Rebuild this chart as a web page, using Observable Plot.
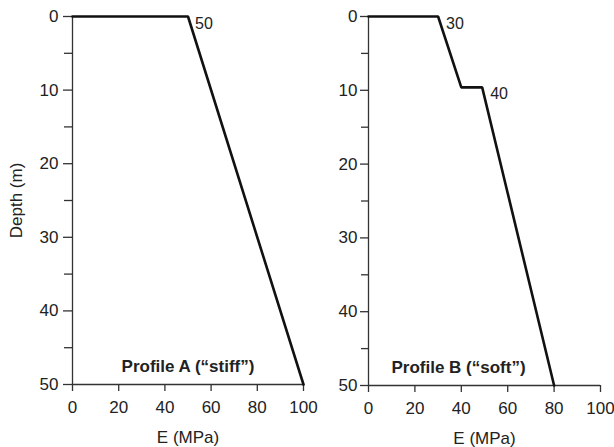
<!DOCTYPE html>
<html>
<head>
<meta charset="utf-8">
<script src="https://cdn.jsdelivr.net/npm/d3@7"></script>
<script src="https://cdn.jsdelivr.net/npm/@observablehq/plot@0.6"></script>
<style>
  html, body { margin: 0; padding: 0; background: #fff; }
  #wrap { display: flex; width: 614px; height: 447px; }
  svg { font-family: "Liberation Sans", Arial, sans-serif; }
</style>
</head>
<body>
<div id="wrap"></div>
<script>
// Profile A ("stiff")
const profileA_E = [0, 50, 100];
const profileA_depth = [0, 0, 50];
const profileA_labels = [{E: 50, depth: 0, text: "50"}];
const profileA_title = "Profile A (\u201cstiff\u201d)";

// Profile B ("soft")
const profileB_E = [0, 30, 40, 49, 80];
const profileB_depth = [0, 0, 9.6, 9.6, 50];
const profileB_labels = [{E: 30, depth: 0, text: "30"}, {E: 49, depth: 9.6, text: "40"}];
const profileB_title = "Profile B (\u201csoft\u201d)";

const xTicks = [0, 20, 40, 60, 80, 100];
const yMajor = [0, 10, 20, 30, 40, 50];
const yMinor = [5, 15, 25, 35, 45];
const xLabel = "E (MPa)";
const yLabel = "Depth (m)";

function panel({E, depth, labels, title, titleX, showYLabel, marginLeft, marginRight, marginBottom, labelDx, yTickSize, yTickPadding}) {
  const pts = E.map((e, i) => ({E: e, depth: depth[i]}));
  return Plot.plot({
    width: 307,
    height: 447,
    marginTop: 16,
    marginBottom,
    marginLeft,
    marginRight,
    style: {fontSize: "17px", fontFamily: "'Liberation Sans', Arial, sans-serif", color: "#222", overflow: "visible"},
    x: {domain: [0, 100]},
    y: {domain: [0, 50], reverse: true},
    marks: [
      Plot.axisX({ticks: xTicks, tickSize: 7, tickPadding: 9, stroke: "#333", strokeWidth: 1.3, fontSize: 17,
        label: xLabel, labelAnchor: "center", labelArrow: "none", labelOffset: 58, fill: "#222"}),
      Plot.axisY({ticks: yMajor, tickSize: yTickSize, tickPadding: yTickPadding, stroke: "#333", strokeWidth: 1.3, fontSize: 17,
        label: showYLabel ? yLabel : null, labelAnchor: "center", labelArrow: "none", labelOffset: 63, fill: "#222"}),
      Plot.axisY({ticks: yMinor, tickSize: yTickSize - 1, tickFormat: () => "", stroke: "#333", strokeWidth: 1.3, label: null}),
      Plot.ruleX([0], {stroke: "#333", strokeWidth: 1.3}),
      Plot.ruleY([50], {stroke: "#333", strokeWidth: 1.3}),
      Plot.line(pts, {x: "E", y: "depth", stroke: "#111", strokeWidth: 2.6, strokeLinejoin: "miter"}),
      Plot.text(labels, {x: "E", y: "depth", text: "text", textAnchor: "start", dx: labelDx, dy: 7, fontSize: 16, fill: "#222"}),
      Plot.text([title], {x: titleX, y: 47.6, text: d => d, fontWeight: "bold", fontSize: 17, fill: "#222"})
    ]
  });
}

const wrap = document.getElementById("wrap");
wrap.appendChild(panel({E: profileA_E, depth: profileA_depth, labels: profileA_labels, title: profileA_title,
  titleX: 50, showYLabel: true, marginLeft: 72, marginRight: 4, marginBottom: 63, labelDx: 7, yTickSize: 9, yTickPadding: 5}));
wrap.appendChild(panel({E: profileB_E, depth: profileB_depth, labels: profileB_labels, title: profileB_title,
  titleX: 38.8, showYLabel: false, marginLeft: 61, marginRight: 14, marginBottom: 62, labelDx: 8, yTickSize: 8, yTickPadding: 3}));
</script>
</body>
</html>
